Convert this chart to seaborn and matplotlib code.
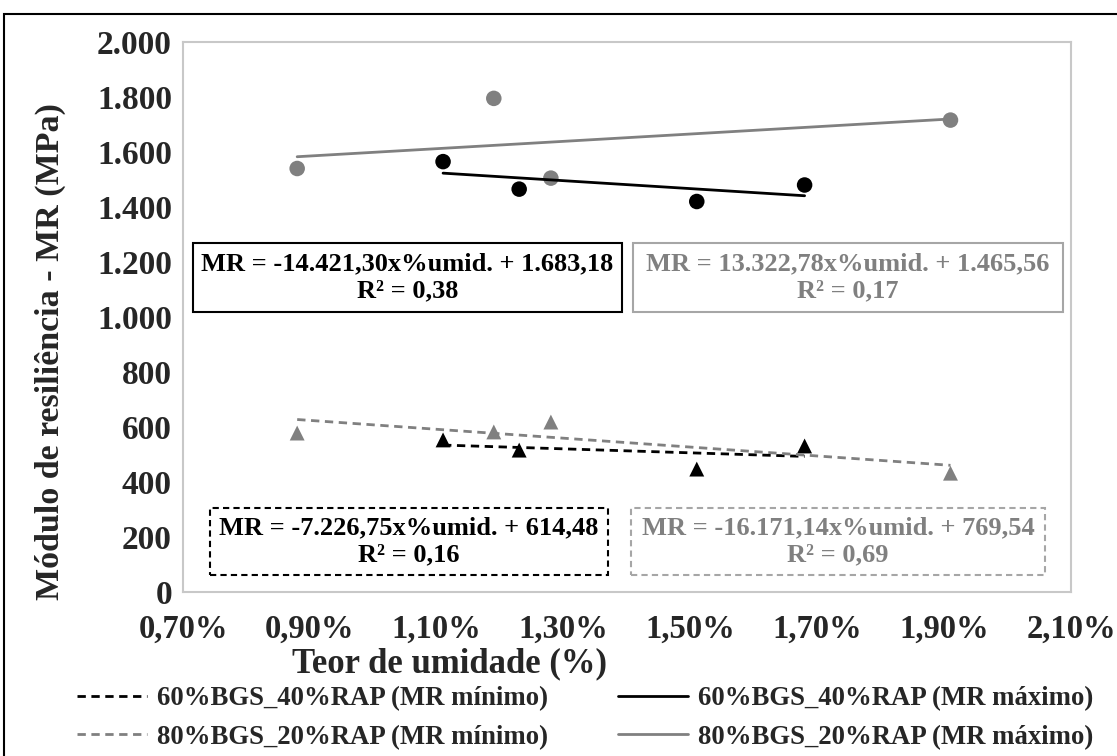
import numpy as np
import pandas as pd
import matplotlib
matplotlib.use("Agg")
import matplotlib.pyplot as plt
import seaborn as sns
from matplotlib.ticker import FuncFormatter, MultipleLocator
from matplotlib.lines import Line2D
from matplotlib.patches import Rectangle

# ---------------- data ----------------
x_6040 = [1.11, 1.23, 1.51, 1.68]          # teor de umidade (%)
mr_max_6040 = [1565, 1465, 1420, 1480]     # MPa
mr_min_6040 = [553, 516, 447, 531]
x_8020 = [0.88, 1.19, 1.28, 1.91]
mr_max_8020 = [1540, 1795, 1505, 1716]
mr_min_8020 = [578, 582, 618, 432]

series_names = ["60%BGS_40%RAP (MR mínimo)", "60%BGS_40%RAP (MR máximo)",
                "80%BGS_20%RAP (MR mínimo)", "80%BGS_20%RAP (MR máximo)"]
slopes = [-7226.75, -14421.30, -16171.14, 13322.78]      # per unit moisture fraction
intercepts = [614.48, 1683.18, 769.54, 1465.56]
eq_texts = ["MR = -7.226,75x%umid. + 614,48\nR² = 0,16",
            "MR = -14.421,30x%umid. + 1.683,18\nR² = 0,38",
            "MR = -16.171,14x%umid. + 769,54\nR² = 0,69",
            "MR = 13.322,78x%umid. + 1.465,56\nR² = 0,17"]
x_ticks = [0.70, 0.90, 1.10, 1.30, 1.50, 1.70, 1.90, 2.10]

# ---------------- style ----------------
sns.set_theme(style="white")
FONT = ['Liberation Serif', 'DejaVu Serif']
plt.rcParams['font.family'] = FONT
plt.rcParams['font.weight'] = 'bold'

W, H = 1117, 756
fig = plt.figure(figsize=(W / 100, H / 100), dpi=100)
AX_L, AX_R, AX_T, AX_B = 183, 1071, 42, 592
ax = fig.add_axes([AX_L / W, 1 - AX_B / H, (AX_R - AX_L) / W, (AX_B - AX_T) / H])

BLACK = "#000000"
GRAY = "#808080"
lw = 2.0

# trend lines (from the fitted equations)
xs_all = [x_6040, x_6040, x_8020, x_8020]
colors = [BLACK, BLACK, GRAY, GRAY]
styles = [(0, (3.0, 2.0)), '-', (0, (3.0, 2.0)), '-']
for xs, a, b, c, ls in zip(xs_all, slopes, intercepts, colors, styles):
    xl = np.array([min(xs), max(xs)])
    yl = a * xl / 100.0 + b
    sns.lineplot(x=xl, y=yl, ax=ax, color=c, linestyle=ls, linewidth=lw)

# points
sns.scatterplot(x=x_6040, y=mr_max_6040, ax=ax, marker='o', color=BLACK, s=125, edgecolor='none')
sns.scatterplot(x=x_8020, y=mr_max_8020, ax=ax, marker='o', color=GRAY, s=125, edgecolor='none')
sns.scatterplot(x=x_6040, y=mr_min_6040, ax=ax, marker='^', color=BLACK, s=115, edgecolor='none')
sns.scatterplot(x=x_8020, y=mr_min_8020, ax=ax, marker='^', color=GRAY, s=115, edgecolor='none')

ax.set_xlim(0.70, 2.10)
ax.set_ylim(0, 2000)
ax.set_xticks(x_ticks)
ax.yaxis.set_major_locator(MultipleLocator(200))
ax.xaxis.set_major_formatter(FuncFormatter(lambda v, p: f"{v:.2f}".replace('.', ',') + '%'))
ax.yaxis.set_major_formatter(FuncFormatter(lambda v, p: f"{int(round(v)):,}".replace(',', '.')))
ax.tick_params(axis='both', length=0)
ax.tick_params(axis='x', pad=16, labelsize=23.5)
ax.tick_params(axis='y', pad=8, labelsize=24)
for lab in ax.get_xticklabels() + ax.get_yticklabels():
    lab.set_fontweight('bold')
for sp in ax.spines.values():
    sp.set_color('#C8C8C8')
    sp.set_linewidth(1.5)
ax.set_xlabel("")
ax.set_ylabel("")
ax.grid(False)

# equation boxes (pixel extents of the text boxes)
def fx(px):
    return (px - AX_L) / (AX_R - AX_L)

def fy(py):
    return (AX_B - py) / (AX_B - AX_T)

box_px = [(210, 608, 508, 575), (193, 622, 243, 312), (631, 1045, 508, 575), (633, 1063, 243, 312)]
box_ls = [(0, (3, 2)), '-', (0, (3, 2)), '-']
box_ec = [BLACK, BLACK, '#A6A6A6', '#A6A6A6']
txt_c = [BLACK, BLACK, GRAY, GRAY]
for (x0, x1, y0, y1), t, ls, ec, tc in zip(box_px, eq_texts, box_ls, box_ec, txt_c):
    ax.add_patch(Rectangle((fx(x0), fy(y1)), fx(x1) - fx(x0), fy(y0) - fy(y1),
                           transform=ax.transAxes, facecolor='white', edgecolor=ec,
                           linestyle=ls, linewidth=1.5, zorder=4))
    ax.text((fx(x0) + fx(x1)) / 2, (fy(y0) + fy(y1)) / 2, t, transform=ax.transAxes,
            ha='center', va='center', fontsize=19, fontweight='bold', color=tc,
            linespacing=1.2, zorder=5)

# axis titles
fig.text(50 / W, 1 - 352 / H, "Módulo de resiliência - MR (MPa)", rotation=90,
         ha='center', va='center', fontsize=24.5, fontweight='bold')
fig.text(450 / W, 1 - 664 / H, "Teor de umidade (%)", ha='center', va='center',
         fontsize=25, fontweight='bold')

# legend
handles = [Line2D([0], [0], color=c, linestyle=ls, linewidth=lw) for c, ls in zip(colors, styles)]
order = [0, 2, 1, 3]
leg = fig.legend([handles[i] for i in order], [series_names[i] for i in order],
                 loc='center', bbox_to_anchor=(0.524, 1 - 718 / H), ncol=2, frameon=False,
                 prop={'family': FONT, 'weight': 'bold', 'size': 19.3},
                 handlelength=2.6, columnspacing=2.6, labelspacing=0.5, handletextpad=0.4)

# outer chart border
fig.patches.append(Rectangle((4 / W, -0.05), 1.2, 1 - 14 / H + 0.05, transform=fig.transFigure,
                             fill=False, edgecolor='black', linewidth=1.5))

fig.savefig("out.png", dpi=100)
